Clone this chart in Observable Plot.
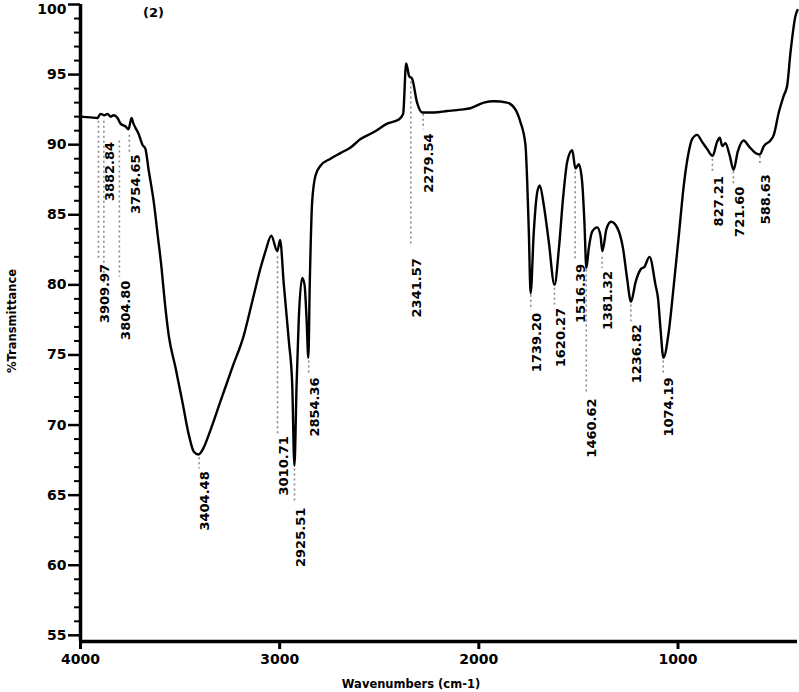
<!DOCTYPE html>
<html>
<head>
<meta charset="utf-8">
<script src="https://cdn.jsdelivr.net/npm/d3@7"></script>
<script src="https://cdn.jsdelivr.net/npm/@observablehq/plot@0.6"></script>
<style>
  html, body { margin: 0; padding: 0; background: #fff; }
  #chart svg { display: block; }
</style>
</head>
<body>
<div id="chart"></div>
<script>
// Spectrum (wavenumber cm-1, %T)
const wavenumber = [4000, 3950, 3915, 3900, 3880, 3864, 3849, 3834, 3814, 3799, 3774, 3759, 3744, 3734, 3724, 3709, 3689, 3674, 3659,
  3632, 3612, 3593, 3577, 3557, 3523, 3489, 3456, 3431, 3408, 3381, 3356, 3297, 3238, 3180, 3138, 3096, 3071, 3042, 3012, 2998,
  2979, 2954, 2937, 2926, 2915, 2904, 2887, 2875, 2865, 2856, 2849, 2837, 2820, 2795, 2745, 2695, 2644, 2594, 2527, 2460, 2402,
  2380, 2365, 2350, 2335, 2310, 2284, 2226, 2159, 2092, 2042, 1975, 1925, 1858, 1816, 1791, 1766, 1757, 1749, 1740, 1724, 1707,
  1694, 1674, 1649, 1620, 1598, 1577, 1556, 1531, 1515, 1498, 1481, 1470, 1460, 1448, 1431, 1406, 1389, 1380, 1359, 1336, 1306,
  1276, 1256, 1236, 1213, 1188, 1168, 1143, 1113, 1100, 1088, 1073, 1046, 1021, 996, 971, 946, 929, 904, 879, 854, 826, 804, 790,
  778, 762, 740, 721, 700, 670, 645, 611, 589, 569, 536, 519, 494, 469, 452, 435, 410, 400];
const transmittance = [92.0, 91.95, 91.9, 92.2, 92.1, 92.2, 92.0, 92.1, 91.9, 91.5, 91.3, 91.1, 91.9, 91.5, 91.2, 90.8, 90.0, 89.7, 88.3,
  85.9, 83.5, 81.2, 78.8, 76.4, 74.1, 71.7, 69.3, 68.1, 67.9, 68.4, 69.3, 71.7, 74.1, 76.4, 78.8, 81.2, 82.4, 83.5, 82.4, 83.2,
  80.0, 76.0, 72.9, 67.1, 72.9, 77.6, 80.5, 80.0, 77.6, 74.8, 80.0, 85.9, 87.8, 88.5, 89.0, 89.4, 89.8, 90.4, 90.9, 91.5, 91.8,
  92.2, 95.8, 94.9, 94.7, 93.0, 92.3, 92.3, 92.4, 92.5, 92.6, 93.0, 93.1, 93.0, 92.5, 91.6, 90.0, 87.3, 83.8, 79.4, 83.8, 86.6,
  87.1, 85.7, 83.1, 80.0, 82.6, 86.2, 88.8, 89.6, 88.3, 88.6, 87.3, 84.5, 81.2, 82.6, 83.8, 84.1, 83.5, 82.4, 84.0, 84.5, 84.1,
  82.6, 80.5, 78.8, 80.2, 81.1, 81.3, 82.0, 80.0, 79.0, 76.9, 74.8, 76.7, 80.0, 83.5, 87.1, 89.5, 90.4, 90.7, 90.2, 89.7, 89.2, 90.2, 90.5,
  89.9, 90.1, 89.2, 88.2, 89.5, 90.3, 89.9, 89.4, 89.3, 89.9, 90.3, 90.7, 92.3, 93.5, 94.2, 96.6, 99.2, 99.6];

// Peak annotations
const peakWavenumber = [3909.97, 3882.84, 3804.80, 3754.65, 3404.48, 3010.71, 2925.51, 2854.36, 2341.57, 2279.54,
  1739.20, 1620.27, 1516.39, 1460.62, 1381.32, 1236.82, 1074.19, 827.21, 721.60, 588.63];
const peakLabel = ["3909.97", "3882.84", "3804.80", "3754.65", "3404.48", "3010.71", "2925.51", "2854.36", "2341.57", "2279.54",
  "1739.20", "1620.27", "1516.39", "1460.62", "1381.32", "1236.82", "1074.19", "827.21", "721.60", "588.63"];
const peakLineFrom = [91.7, 91.7, 90.3, 90.7, 67.7, 82.05, 66.9, 74.6, 94.5, 92.2,
  79.3, 79.8, 88.1, 81.1, 82.0, 78.6, 74.6, 89.0, 88.1, 89.2];
const peakLineTo = [81.8, 80.0, 80.6, 89.5, 66.9, 69.4, 64.4, 73.6, 82.8, 91.1,
  78.2, 78.6, 81.7, 72.2, 81.2, 77.4, 73.65, 88.0, 87.25, 88.5];
const peakTextTop = [81.5, 90.2, 80.3, 89.3, 66.7, 69.2, 64.1, 73.4, 81.9, 90.8,
  78.0, 78.35, 81.5, 71.9, 81.0, 77.2, 73.4, 87.75, 87.0, 87.9];

const xTicks = [4000, 3000, 2000, 1000];
const yMajor = [55, 60, 65, 70, 75, 80, 85, 90, 95, 100];
const yMinor = d3.range(55, 101).filter(v => v % 5 !== 0);

const spectrum = wavenumber.map((w, i) => ({w, t: transmittance[i]}));
const peaks = peakWavenumber.map((w, i) => ({
  w, label: peakLabel[i], from: peakLineFrom[i], to: peakLineTo[i], top: peakTextTop[i]
}));

const font = "'DejaVu Sans', 'Liberation Sans', sans-serif";
const yBottom = 54.56;

const chart = Plot.plot({
  width: 799,
  height: 692,
  marginLeft: 80,
  marginRight: 2,
  marginTop: 4,
  marginBottom: 51,
  style: {fontFamily: font, fontWeight: "bold", color: "#000", background: "#fff"},
  x: {domain: [4000, 400]},
  y: {domain: [yBottom, 100]},
  marks: [
    // peak guide lines
    Plot.link(peaks, {x1: "w", x2: "w", y1: "from", y2: "to", stroke: "#8a8a8a", strokeWidth: 1.6, strokeDasharray: "2,3"}),
    // spectrum
    Plot.line(spectrum, {x: "w", y: "t", stroke: "#000", strokeWidth: 2.4, curve: "monotone-x"}),
    // peak labels
    Plot.text(peaks, {x: "w", y: "top", text: "label", rotate: -90, textAnchor: "end", lineAnchor: "middle",
      dx: 6, fontSize: 13, fontWeight: "bold", fill: "#000"}),
    // axes
    Plot.axisY({ticks: yMinor, tickSize: 6, strokeWidth: 2, tickFormat: null, text: null, label: null}),
    Plot.axisY({ticks: yMajor, tickSize: 12, tickPadding: 2, strokeWidth: 2.5, fontSize: 14, fontWeight: "bold",
      tickFormat: d => d === 100 ? "" : String(d), label: null}),
    Plot.axisY({ticks: [100], tickSize: 0, tickPadding: 14, dy: 5, fontSize: 14, fontWeight: "bold",
      tickFormat: d => String(d), label: null}),
    Plot.axisX({ticks: xTicks, tickSize: 8, tickPadding: 5, strokeWidth: 3, fontSize: 14, fontWeight: "bold",
      tickFormat: d => String(d), label: null}),
    Plot.ruleX([4000], {stroke: "#000", strokeWidth: 3.5}),
    Plot.ruleY([yBottom], {stroke: "#000", strokeWidth: 3.5}),
    // titles
    Plot.text(["Wavenumbers (cm-1)"], {frameAnchor: "bottom", lineAnchor: "middle", textAnchor: "middle", dx: -28, dy: 43,
      fontSize: 11.5, fontWeight: "bold", fill: "#000"}),
    Plot.text(["%Transmittance"], {frameAnchor: "left", textAnchor: "middle", lineAnchor: "middle", rotate: -90, dx: -68, dy: -2,
      fontSize: 11.5, fontWeight: "bold", fill: "#000"}),
    Plot.text(["(2)"], {frameAnchor: "top-left", textAnchor: "middle", lineAnchor: "middle", dx: 73, dy: 8,
      fontSize: 13, fontWeight: "bold", fill: "#000"})
  ]
});
document.getElementById("chart").appendChild(chart);
</script>
</body>
</html>
